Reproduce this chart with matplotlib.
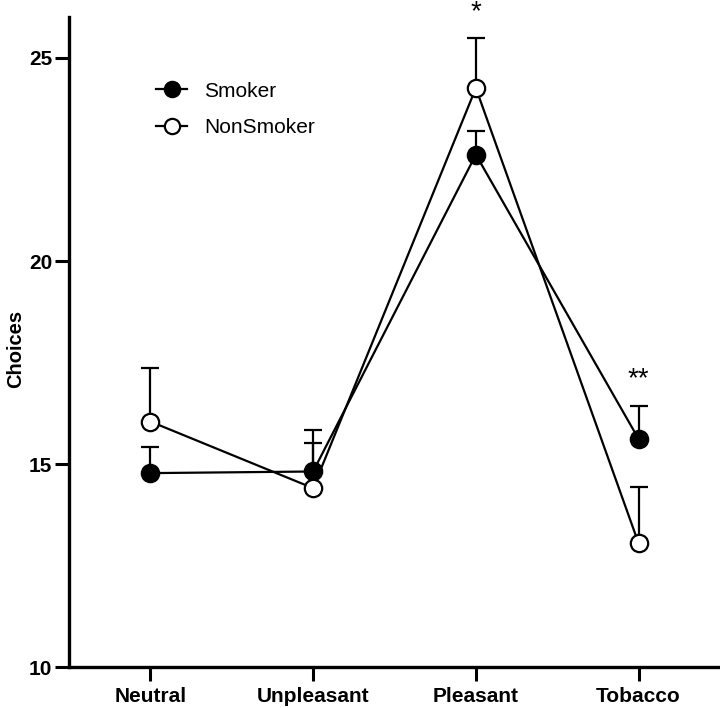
import numpy as np
import matplotlib.pyplot as plt

plt.rcParams['font.family'] = ['Liberation Sans', 'DejaVu Sans']

# data
categories = ['Neutral', 'Unpleasant', 'Pleasant', 'Tobacco']
smoker = [14.78, 14.82, 22.62, 15.62]
smoker_err = [0.65, 0.71, 0.59, 0.80]
nonsmoker = [16.05, 14.41, 24.26, 13.05]
nonsmoker_err = [1.31, 1.42, 1.23, 1.40]
sig_labels = ['', '', '*', '**']
sig_y = [None, None, 26.12, 17.08]

fig = plt.figure(figsize=(7.2, 7.08), dpi=100)
ax = fig.add_axes([0.0958, 0.0575, 0.9042, 0.918])

x = np.arange(len(categories))

# upward-only error bars
ax.errorbar(x, smoker, yerr=[np.zeros(4), smoker_err], fmt='none',
            ecolor='black', elinewidth=1.6, capsize=6.5, capthick=1.6, zorder=2)
ax.errorbar(x, nonsmoker, yerr=[np.zeros(4), nonsmoker_err], fmt='none',
            ecolor='black', elinewidth=1.6, capsize=6.5, capthick=1.6, zorder=2)

ax.plot(x, smoker, color='black', lw=1.6, marker='o', ms=12.5,
        mfc='black', mec='black', mew=1.6, label='Smoker', zorder=3)
ax.plot(x, nonsmoker, color='black', lw=1.6, marker='o', ms=12.5,
        mfc='white', mec='black', mew=1.6, label='NonSmoker', zorder=4)

for xi, lab, yy in zip(x, sig_labels, sig_y):
    if lab:
        ax.text(xi, yy, lab, ha='center', va='center', fontsize=20,
                clip_on=False)

ax.set_xlim(-0.5, 3.5)
ax.set_ylim(10, 26)
ax.set_yticks([10, 15, 20, 25])
ax.set_xticks(x)
ax.set_xticklabels(categories)
for t in ax.get_xticklabels() + ax.get_yticklabels():
    t.set_fontweight('bold')
    t.set_fontsize(15)

ax.set_ylabel('Choices', fontsize=14.5, fontweight='bold')
ax.yaxis.set_label_coords(-0.068, 0.49)

for s in ['top', 'right']:
    ax.spines[s].set_visible(False)
for s in ['left', 'bottom']:
    ax.spines[s].set_linewidth(2.4)
ax.tick_params(axis='both', width=2.2, length=10, direction='out')
ax.tick_params(axis='y', pad=2)
ax.tick_params(axis='x', pad=4)

leg = ax.legend(loc='upper left', bbox_to_anchor=(0.105, 0.93), frameon=False,
                fontsize=15, handlelength=1.5, handletextpad=0.8,
                labelspacing=0.85)
for h in leg.legend_handles:
    h.set_markersize(11)

fig.savefig('out.png', dpi=100)
